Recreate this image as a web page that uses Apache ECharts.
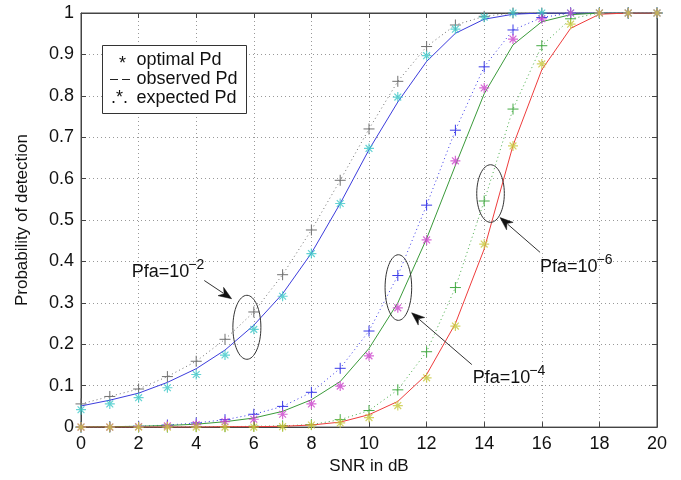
<!DOCTYPE html>
<html><head><meta charset="utf-8">
<script src="https://cdn.jsdelivr.net/npm/echarts@6/dist/echarts.min.js"></script>
<style>html,body{margin:0;padding:0;background:#fff}#c{width:681px;height:480px}</style>
</head><body><div id="c"></div>
<script>
// ---- data ----
const snr = [0,1,2,3,4,5,6,7,8,9,10,11,12,13,14,15,16,17,18,19,20];
const xTicks = [0,2,4,6,8,10,12,14,16,18,20];
const yTicks = [0,0.1,0.2,0.3,0.4,0.5,0.6,0.7,0.8,0.9,1];
// Pfa = 1e-2
const observed1 = [0.051,0.065,0.082,0.108,0.141,0.186,0.246,0.322,0.420,0.540,0.670,0.785,0.883,0.951,0.985,0.997,1,1,1,1,1];
const optimal1  = [0.042,0.056,0.071,0.095,0.127,0.174,0.236,0.316,0.419,0.540,0.673,0.797,0.897,0.961,0.990,1,1,1,1,1,1];
const expected1 = [0.056,0.074,0.092,0.122,0.159,0.212,0.278,0.368,0.476,0.596,0.720,0.835,0.919,0.971,0.992,1,1,1,1,1,1];
// Pfa = 1e-4
const observed2 = [0.0005,0.001,0.002,0.004,0.007,0.013,0.022,0.038,0.066,0.110,0.190,0.300,0.455,0.632,0.805,0.923,0.979,0.996,1,1,1];
const optimal2  = [0,0,0.001,0.003,0.006,0.013,0.019,0.031,0.056,0.099,0.172,0.288,0.452,0.643,0.819,0.937,0.986,1,1,1,1];
const expected2 = [0,0.001,0.002,0.005,0.010,0.018,0.031,0.050,0.084,0.142,0.232,0.366,0.536,0.717,0.870,0.959,0.989,1,1,1,1];
// Pfa = 1e-6
const observed3 = [0,0,0,0,0,0.001,0.001,0.002,0.005,0.012,0.030,0.062,0.127,0.250,0.430,0.680,0.863,0.963,0.997,1,1];
const optimal3  = [0,0,0,0,0,0,0,0.001,0.005,0.010,0.023,0.052,0.119,0.244,0.442,0.679,0.877,0.973,1,1,1];
const expected3 = [0,0,0,0,0.001,0.001,0.002,0.003,0.006,0.018,0.040,0.090,0.182,0.337,0.546,0.768,0.921,0.986,1,1,1];
const legendLabels = ['optimal Pd','observed Pd','expected Pd'];
const pfaLabels = ['Pfa=10','\u22122','\u22124','\u22126'];

// ---- chart ----
const FONT = '"Liberation Sans", Arial, Helvetica, sans-serif';
const FS = 18;
const PLUS = 'path://M0,5L10,5M5,0L5,10';
const STAR = 'path://M5,0L5,10M0,5L10,5M1.6,1.6L8.4,8.4M8.4,1.6L1.6,8.4';
const pair = ys => snr.map((x,i)=>[x, ys[i]]);
function lineS(ys, color){ return {type:'line', data:pair(ys), symbol:'none', lineStyle:{color, width:1}, z:3, silent:true}; }
function dotS(ys, color){ return {type:'line', data:pair(ys), symbol:PLUS, symbolSize:11, showAllSymbol:true,
  lineStyle:{color, width:1, type:[1,3]}, itemStyle:{color:'none', borderColor:color, borderWidth:1}, z:2, silent:true}; }
function starS(ys, color){ return {type:'scatter', data:pair(ys), symbol:STAR, symbolSize:10,
  itemStyle:{color:'none', borderColor:color, borderWidth:1.2}, z:4, silent:true}; }

const axisCommon = {
  type:'value',
  axisLine:{show:true, onZero:false, lineStyle:{color:'#444', width:1}},
  axisTick:{show:true, inside:true, length:5, lineStyle:{color:'#444'}},
};
const chart = echarts.init(document.getElementById('c'));
chart.setOption({
  animation:false,
  backgroundColor:'#fff',
  grid:{left:81, right:24, top:13, bottom:51, show:true, borderColor:'#444', borderWidth:1},
  xAxis:[
    Object.assign({}, axisCommon, {min:xTicks[0], max:xTicks[xTicks.length-1], interval:xTicks[1]-xTicks[0], position:'bottom',
      axisLabel:{fontSize:FS, color:'#111', fontFamily:FONT, margin:8},
      splitLine:{show:true, lineStyle:{color:'#999', type:[1,3], width:1}},
      name:'SNR in dB', nameLocation:'middle', nameGap:29, nameTextStyle:{fontSize:17, color:'#111', fontFamily:FONT}}),
    Object.assign({}, axisCommon, {min:xTicks[0], max:xTicks[xTicks.length-1], interval:xTicks[1]-xTicks[0], position:'top',
      axisLabel:{show:false}, splitLine:{show:false}})
  ],
  yAxis:[
    Object.assign({}, axisCommon, {min:yTicks[0], max:yTicks[yTicks.length-1], interval:0.1, position:'left',
      axisLabel:{fontSize:FS, color:'#111', fontFamily:FONT, margin:7},
      splitLine:{show:true, lineStyle:{color:'#999', type:[1,3], width:1}},
      name:'Probability of detection', nameLocation:'middle', nameGap:50, nameRotate:90,
      nameTextStyle:{fontSize:17, color:'#111', fontFamily:FONT}}),
    Object.assign({}, axisCommon, {min:yTicks[0], max:yTicks[yTicks.length-1], interval:0.1, position:'right',
      axisLabel:{show:false}, splitLine:{show:false}})
  ],
  series:[
    dotS(expected1, '#707070'), lineS(observed1, '#3c3cdc'), starS(optimal1, '#3cc8c8'),
    dotS(expected2, '#3a3ae8'), lineS(observed2, '#3a9a3a'), starS(optimal2, '#cc44cc'),
    dotS(expected3, '#44aa44'), lineS(observed3, '#ee3c3c'), starS(optimal3, '#c8c83c')
  ]
});

// ---- annotations (anchored in data coordinates) ----
const P = (x,y) => chart.convertToPixel({gridIndex:0}, [x,y]);
const measure = (txt, font) => { const cv = document.createElement('canvas').getContext('2d'); cv.font = font; return cv.measureText(txt).width; };
const ellipses = [ {c:[5.76,0.241], rx:14, ry:32}, {c:[11.02,0.337], rx:13.3, ry:32.8}, {c:[14.22,0.564], rx:13.8, ry:28.8} ];
const arrows = [ {from:[4.28,0.354], to:[5.23,0.310]}, {from:[13.57,0.151], to:[11.48,0.276]}, {from:[15.94,0.422], to:[14.55,0.506]} ];
const labels = [ {at:[1.76,0.375], sup:pfaLabels[1]}, {at:[13.60,0.119], sup:pfaLabels[2]}, {at:[15.94,0.387], sup:pfaLabels[3]} ];
const g = [];
ellipses.forEach(e => { const p = P(e.c[0], e.c[1]);
  g.push({type:'ellipse', shape:{cx:p[0], cy:p[1], rx:e.rx, ry:e.ry}, style:{fill:'none', stroke:'#333', lineWidth:1}, z:10}); });
arrows.forEach(a => { const s = P(a.from[0], a.from[1]), t = P(a.to[0], a.to[1]);
  const dx = t[0]-s[0], dy = t[1]-s[1], L = Math.hypot(dx,dy), ux = dx/L, uy = dy/L;
  const hl = 13, hw = 5; const bx = t[0]-ux*hl, by = t[1]-uy*hl;
  g.push({type:'line', shape:{x1:s[0], y1:s[1], x2:bx+ux*3, y2:by+uy*3}, style:{stroke:'#333', lineWidth:1}, z:10});
  g.push({type:'polygon', shape:{points:[[t[0],t[1]],[bx-uy*hw, by+ux*hw],[t[0]-ux*hl*0.7, t[1]-uy*hl*0.7],[bx+uy*hw, by-ux*hw]]}, style:{fill:'#111', stroke:'#111', lineWidth:0.5}, z:10});
});
const labFont = '18px ' + FONT;
const baseW = measure(pfaLabels[0], labFont);
labels.forEach(l => { const p = P(l.at[0], l.at[1]);
  g.push({type:'text', x:p[0], y:p[1], style:{text:pfaLabels[0], font:labFont, fill:'#111', align:'left', verticalAlign:'middle'}, z:11});
  g.push({type:'text', x:p[0]+baseW-1, y:p[1]-7, style:{text:l.sup, font:'14px '+FONT, fill:'#111', align:'left', verticalAlign:'middle'}, z:11});
});
// legend box
g.push({type:'rect', shape:{x:102.5, y:45.5, width:144, height:68}, style:{fill:'#fff', stroke:'#333', lineWidth:1}, z:20});
g.push({type:'text', x:122.5, y:64, style:{text:'*', font:'18px '+FONT, fill:'#111', align:'center', verticalAlign:'middle'}, z:21});
g.push({type:'line', shape:{x1:110, y1:79.5, x2:130, y2:79.5}, style:{stroke:'#222', lineWidth:1, lineDash:[8,4]}, z:21});
g.push({type:'text', x:119.5, y:98, style:{text:'.*.', font:'18px '+FONT, fill:'#111', align:'center', verticalAlign:'middle'}, z:21});
legendLabels.forEach((t,i) => g.push({type:'text', x:136.5, y:60+i*19, style:{text:t, font:'18px '+FONT, fill:'#111', align:'left', verticalAlign:'middle'}, z:21}));
chart.setOption({graphic:g});
</script></body></html>
